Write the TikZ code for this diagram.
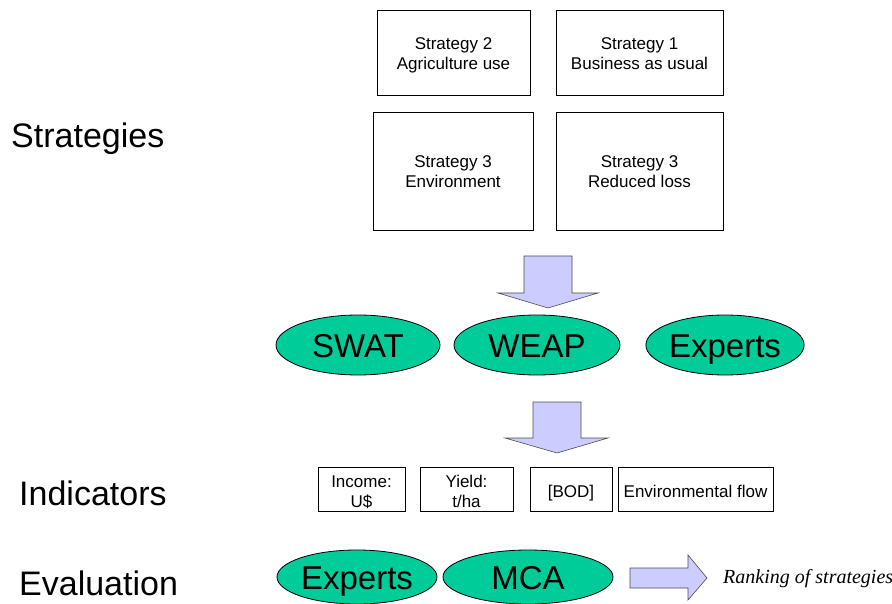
\documentclass[tikz,border=0pt]{standalone}
\usepackage{fontspec}
\setmainfont{Liberation Sans}
\newfontfamily\timesfont{Liberation Serif}
\usetikzlibrary{shapes.geometric}
\definecolor{modelgreen}{RGB}{0,204,153}
\definecolor{arrowblue}{RGB}{204,204,255}

\begin{document}
\begin{tikzpicture}[x = 1pt, y = -1pt,
		stratbox/.style = {draw, line width = 0.8pt, align = center, inner sep = 0pt,
			font = \fontsize{17}{20}\selectfont, text height = 40pt, text depth = 6pt},
		indbox/.style = {stratbox, minimum height = 44pt, text height = 40pt, text depth = 4pt},
		model/.style = {draw, ellipse, fill = modelgreen, line width = 0.8pt, inner sep = 0pt,
			text height = 24pt, text depth = 0pt, font = \fontsize{33}{36}\selectfont},
		rowlabel/.style = {anchor = base west, inner sep = 0pt, font = \fontsize{34}{36}\selectfont},
		bigarrow/.style = {draw = black!70, fill = arrowblue, line width = 0.6pt}]
	\useasboundingbox (0,0) rectangle (892,604);
		% row labels
		\node (lstrat) at (11,148) [rowlabel] {Strategies};
		\node (lind) at (19,505) [rowlabel] {Indicators};
		\node (leval) at (19,595) [rowlabel] {Evaluation};
		% strategies
		\node (s2) at (453.5,52.5) [stratbox, minimum width = 153pt, minimum height = 85pt, text height = 41pt] {Strategy 2\\Agriculture use};
		\node (s1) at (639.5,52.5) [stratbox, minimum width = 167pt, minimum height = 85pt, text height = 41pt] {Strategy 1\\Business as usual};
		\node (s3e) at (453,171) [stratbox, minimum width = 160pt, minimum height = 118pt] {Strategy 3\\Environment};
		\node (s3r) at (639.5,171) [stratbox, minimum width = 167pt, minimum height = 118pt] {Strategy 3\\Reduced loss};
	      \draw [bigarrow] (524,256) -- (572,256) -- (572,293) -- (598,293) -- (548,308)
	      	-- (498,293) -- (524,293) -- cycle;
		% models
		\node (swat) at (358,345) [model, minimum width = 164pt, minimum height = 60pt] {SWAT};
		\node (weap) at (537,345) [model, minimum width = 166pt, minimum height = 60pt] {WEAP};
		\node (exp1) at (725,345) [model, minimum width = 140pt, minimum height = 60pt] {Experts};
	      \draw [bigarrow] (533,402) -- (581,402) -- (581,438) -- (608,438) -- (557,453)
	      	-- (505,438) -- (533,438) -- cycle;
		% indicators
		\node (inc) at (361.5,489) [indbox, minimum width = 87pt] {Income:\\U\$};
		\node (yld) at (466.5,489) [indbox, minimum width = 93pt] {Yield:\\t/ha};
		\node (bod) at (571,489) [indbox, minimum width = 82pt, text height = 18pt, text depth = 2pt] {[BOD]};
		\node (eflow) at (695.5,489) [indbox, minimum width = 155pt, text height = 18pt, text depth = 2pt] {Environmental flow};
		% evaluation
		\node (exp2) at (357,577) [model, minimum width = 160pt, minimum height = 54pt] {Experts};
		\node (mca) at (528,577) [model, minimum width = 170pt, minimum height = 54pt] {MCA};
	      \draw [bigarrow] (630,568) -- (688,568) -- (688,555) -- (707,578) -- (688,600)
	      	-- (688,588) -- (630,588) -- cycle;
		\node (rank) at (723,583) [anchor = base west, inner sep = 0pt,
			font = \timesfont\itshape\fontsize{20}{22}\selectfont] {Ranking of strategies};
	\end{tikzpicture}
\end{document}
